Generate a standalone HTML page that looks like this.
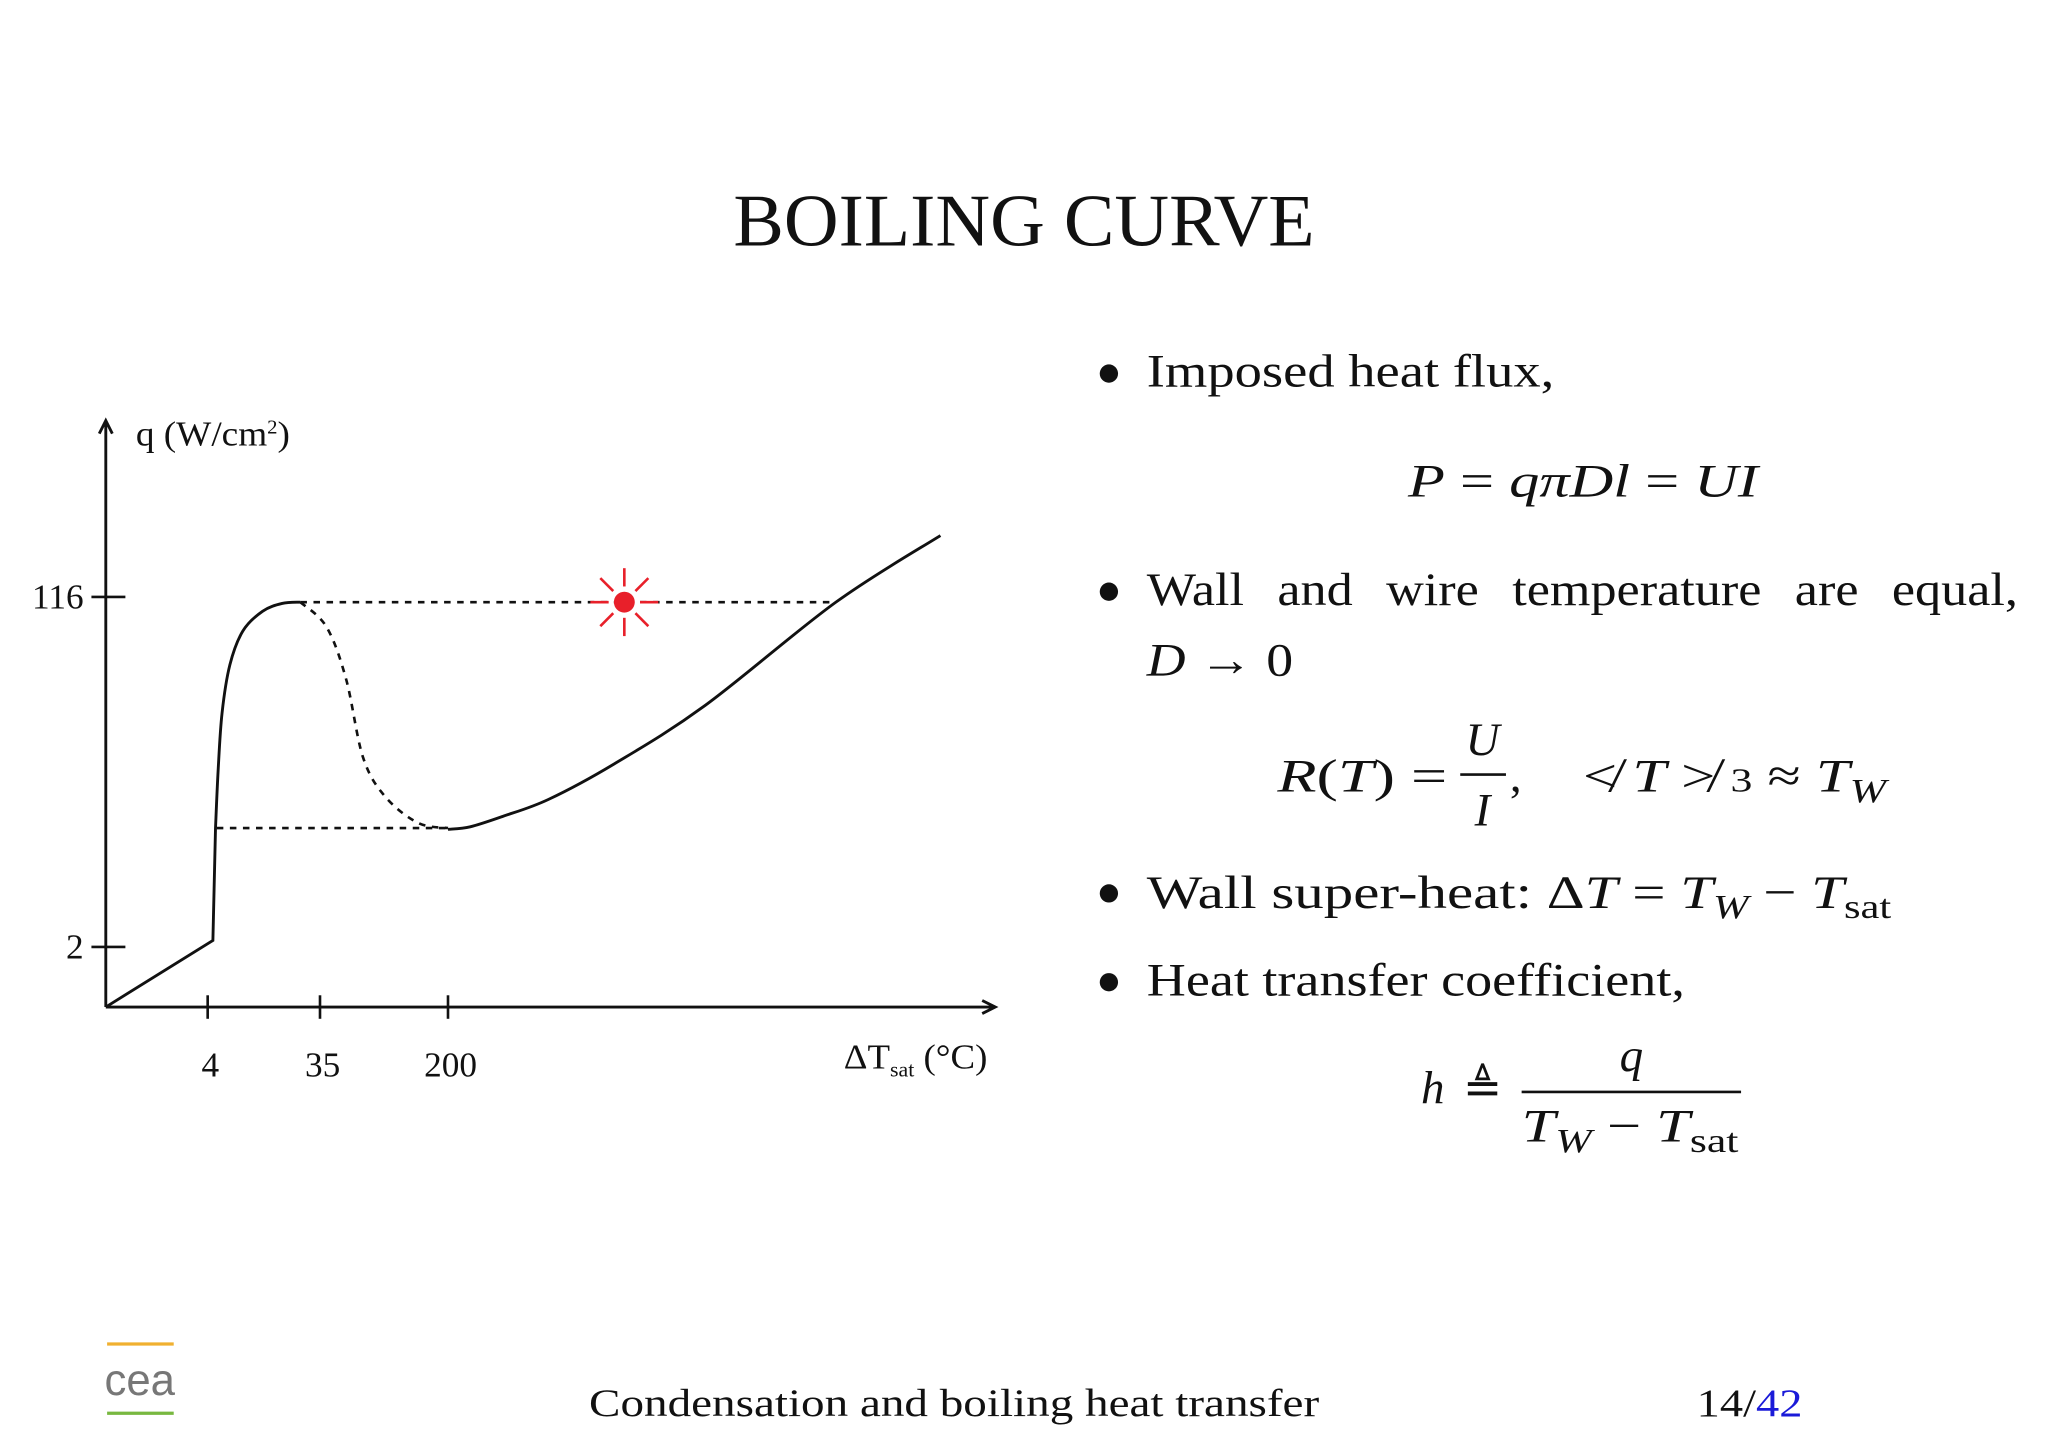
<!DOCTYPE html>
<html><head><meta charset="utf-8"><style>
html,body{margin:0;padding:0;background:#fff;}
svg{display:block;}
text{font-family:"Liberation Serif",serif;fill:#111;}
.it{font-style:italic;}
</style></head><body>
<svg width="2048" height="1448" viewBox="0 0 1568 1108.6" xmlns="http://www.w3.org/2000/svg">
<rect width="1568" height="1108.6" fill="#fff"/>
<text x="784" y="188" font-size="57" text-anchor="middle" textLength="445" lengthAdjust="spacingAndGlyphs">BOILING CURVE</text>

<g id="chart"></g>

<g font-size="36">
<circle cx="849" cy="286" r="7" fill="#111"/>
<text x="878" y="296" textLength="312" lengthAdjust="spacingAndGlyphs">Imposed heat flux,</text>
<text x="1078" y="380" textLength="268" lengthAdjust="spacingAndGlyphs"><tspan class="it">P</tspan> = <tspan class="it">qπDl</tspan> = <tspan class="it">UI</tspan></text>
<circle cx="849" cy="453" r="7" fill="#111"/>
<text x="878" y="463" word-spacing="14" textLength="667" lengthAdjust="spacingAndGlyphs">Wall and wire temperature are equal,</text>
<text x="878" y="517" textLength="112" lengthAdjust="spacingAndGlyphs"><tspan class="it">D</tspan> → 0</text>
<text x="978" y="606" textLength="130" lengthAdjust="spacingAndGlyphs"><tspan class="it">R</tspan>(<tspan class="it">T</tspan>) =</text>
<text x="1135" y="578" text-anchor="middle" class="it">U</text>
<line x1="1118" y1="593" x2="1153" y2="593" stroke="#111" stroke-width="2"/>
<text x="1135" y="632" text-anchor="middle" class="it">I</text>
<text x="1156" y="606">,</text>
<text x="1212" y="606" textLength="232" lengthAdjust="spacingAndGlyphs">≮ <tspan class="it">T</tspan> ≯ <tspan font-size="26">3</tspan> ≈ <tspan class="it">T</tspan><tspan class="it" font-size="26" dy="8">W</tspan></text>
<circle cx="849" cy="684" r="7" fill="#111"/>
<text x="878" y="695" textLength="570" lengthAdjust="spacingAndGlyphs">Wall super-heat: Δ<tspan class="it">T</tspan> = <tspan class="it">T</tspan><tspan class="it" font-size="26" dy="8">W</tspan><tspan dy="-8"> − </tspan><tspan class="it">T</tspan><tspan font-size="26" dy="8">sat</tspan></text>
<circle cx="849" cy="752" r="7" fill="#111"/>
<text x="878" y="762" textLength="412" lengthAdjust="spacingAndGlyphs">Heat transfer coefficient,</text>
<text x="1088" y="845" class="it">h</text>
<text x="1120" y="845">≜</text>
<text x="1249" y="820" text-anchor="middle" class="it">q</text>
<line x1="1165" y1="836" x2="1333" y2="836" stroke="#111" stroke-width="2"/>
<text x="1165" y="874" textLength="166" lengthAdjust="spacingAndGlyphs"><tspan class="it">T</tspan><tspan class="it" font-size="26" dy="8">W</tspan><tspan dy="-8"> − </tspan><tspan class="it">T</tspan><tspan font-size="26" dy="8">sat</tspan></text>
</g>

<g>
<line x1="82" y1="1029" x2="133" y2="1029" stroke="#f0b030" stroke-width="2.5"/>
<line x1="82" y1="1082" x2="133" y2="1082" stroke="#78b840" stroke-width="2.5"/>
<text x="80" y="1068" font-size="34" style="fill:#777;font-family:'Liberation Sans',sans-serif" textLength="54" lengthAdjust="spacingAndGlyphs">cea</text>
</g>
<text x="451" y="1084" font-size="30" textLength="559" lengthAdjust="spacingAndGlyphs">Condensation and boiling heat transfer</text>
<text x="1299" y="1084" font-size="30" textLength="81" lengthAdjust="spacingAndGlyphs">14/<tspan style="fill:#1a1ad8">42</tspan></text>
</svg>

<script>
// Chart data (curve units: x = superheat scale 0..681, y = heat flux scale 0..449)
const boilingX = [0, 82, 84, 86, 89, 95, 105, 120, 135, 149];
const boilingY = [0, 51, 137, 181, 225, 262, 288, 303, 309, 310];
const transitionX = [149, 169, 184, 197, 214, 239, 262];
const transitionY = [310, 291, 251, 191, 161, 141, 137];
const filmX = [262, 279, 304, 339, 389, 459, 559, 639];
const filmY = [136, 138, 146, 159, 186, 231, 310, 361];
const xTickValues = [78, 164, 262];
const xTickLabels = ["4", "35", "200"];
const yTickValues = [314, 46];
const yTickLabels = ["116", "2"];
const chfLevel = 310;
const chfEnd = 559;
const minLevel = 137;
const minStart = 85;
const markerX = 397;

const ox = 81, oy = 771;
const xS = v => ox + v;
const yS = v => oy - v;
const NS = "http://www.w3.org/2000/svg";
const g = document.getElementById('chart');
function mk(tag, attrs, parent) {
  const e = document.createElementNS(NS, tag);
  for (const k in attrs) e.setAttribute(k, attrs[k]);
  (parent || g).appendChild(e);
  return e;
}
function smooth(xs, ys, startIdx) {
  const s = startIdx || 0;
  const p = xs.map((x, i) => [xS(x), yS(ys[i])]);
  let d = `M${p[0][0]},${p[0][1]}`;
  for (let i = 1; i <= s; i++) d += ` L${p[i][0]},${p[i][1]}`;
  for (let i = s; i < p.length - 1; i++) {
    const p0 = (i > s ? p[i - 1] : p[i]), p1 = p[i], p2 = p[i + 1], p3 = p[i + 2] || p2;
    const c1 = [p1[0] + (p2[0] - p0[0]) / 6, p1[1] + (p2[1] - p0[1]) / 6];
    const c2 = [p2[0] - (p3[0] - p1[0]) / 6, p2[1] - (p3[1] - p1[1]) / 6];
    d += ` C${c1[0]},${c1[1]} ${c2[0]},${c2[1]} ${p2[0]},${p2[1]}`;
  }
  return d;
}
const yAxis = mk('path', {d: `M${ox},${oy} L${ox},322 M${ox-5},332 L${ox},322 L${ox+5},332`, stroke: '#111', 'stroke-width': 2.2, fill: 'none'});


const xAxis = mk('path', {d: `M${ox},${oy} L762,${oy} M752,${oy-5} L762,${oy} L752,${oy+5}`, stroke: '#111', 'stroke-width': 2.2, fill: 'none'});


xTickValues.forEach((v, i) => {
  const t = mk('line', {x1: xS(v), x2: xS(v), y1: oy - 9, y2: oy + 9, stroke: '#111', 'stroke-width': 2});
  
  
  const l = mk('text', {x: xS(v) + 2, y: 824, 'font-size': 27, 'text-anchor': 'middle'});
  
  
  l.textContent = xTickLabels[i];
});
yTickValues.forEach((v, i) => {
  const t = mk('line', {x1: 70, x2: 96, y1: yS(v), y2: yS(v), stroke: '#111', 'stroke-width': 2});
  
  
  const l = mk('text', {x: 64, y: yS(v) + 9, 'font-size': 27, 'text-anchor': 'end'});
  
  
  l.textContent = yTickLabels[i];
});
const yl = mk('text', {x: 104, y: 341, 'font-size': 27, textLength: 118, lengthAdjust: 'spacingAndGlyphs'});


yl.innerHTML = 'q (W/cm<tspan font-size="15" dy="-9">2</tspan><tspan dy="9">)</tspan>';
const xl = mk('text', {x: 646, y: 818, 'font-size': 27, textLength: 110, lengthAdjust: 'spacingAndGlyphs'});


xl.innerHTML = 'ΔT<tspan font-size="16" dy="6">sat</tspan><tspan dy="-6"> (°C)</tspan>';
const d1 = mk('line', {x1: xS(boilingX[boilingX.length-1]), x2: xS(chfEnd), y1: yS(chfLevel), y2: yS(chfLevel), stroke: '#111', 'stroke-width': 2, 'stroke-dasharray': '5,5'});


const d2 = mk('line', {x1: xS(minStart), x2: xS(filmX[0]), y1: yS(minLevel), y2: yS(minLevel), stroke: '#111', 'stroke-width': 2, 'stroke-dasharray': '5,5'});


const c1 = mk('path', {d: smooth(boilingX, boilingY, 2), stroke: '#111', 'stroke-width': 2.2, fill: 'none'});


const c2 = mk('path', {d: smooth(transitionX, transitionY), stroke: '#111', 'stroke-width': 2, fill: 'none', 'stroke-dasharray': '5,5'});


const c3 = mk('path', {d: smooth(filmX, filmY), stroke: '#111', 'stroke-width': 2.2, fill: 'none'});


const mg = mk('g', {});


const mx = xS(markerX), my = yS(chfLevel);
mk('circle', {cx: mx, cy: my, r: 8, fill: '#e8202a'}, mg);
[0, 45, 90, 135, 180, 225, 270, 315].forEach(a => {
  const r = a * Math.PI / 180;
  mk('line', {x1: mx + 12 * Math.cos(r), y1: my + 12 * Math.sin(r), x2: mx + 26 * Math.cos(r), y2: my + 26 * Math.sin(r), stroke: '#e8202a', 'stroke-width': 2}, mg);
});
</script>
</body></html>
